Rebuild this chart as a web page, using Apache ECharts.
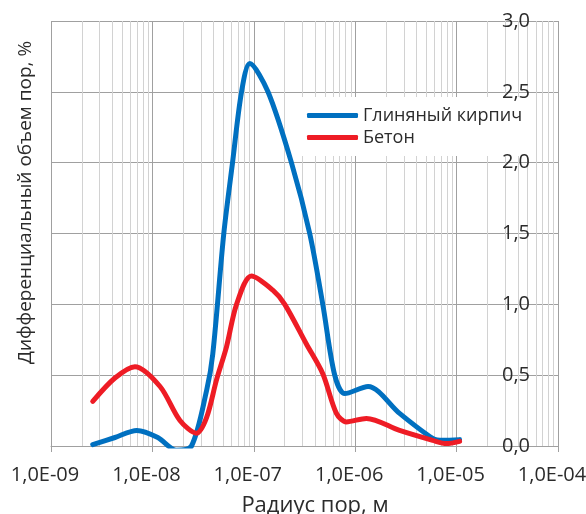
<!DOCTYPE html>
<html>
<head>
<meta charset="utf-8">
<script src="https://cdn.jsdelivr.net/npm/echarts@6/dist/echarts.min.js"></script>
<style>
html,body{margin:0;padding:0;background:#fff;}
#chart{width:586px;height:514px;}
</style>
</head>
<body>
<div id="chart"></div>
<script>
// ---- data ----
const seriesNames = ['Глиняный кирпич', 'Бетон'];
const brickRadius = [2.58e-9, 4.27e-9, 7.03e-9, 1.13e-8, 1.73e-8, 2.43e-8, 3.42e-8, 3.94e-8, 5.06e-8, 6.17e-8, 7.57e-8, 9.14e-8, 1.38e-7, 2.35e-7, 3.56e-7, 4.79e-7, 6.28e-7, 7.89e-7, 1.34e-6, 2.74e-6, 5.81e-6, 7.33e-6, 1.07e-5];
const brickValues = [0.01, 0.06, 0.11, 0.06, -0.03, 0.0, 0.39, 0.65, 1.5, 2.0, 2.5, 2.70, 2.5, 2.0, 1.5, 1.0, 0.5, 0.37, 0.42, 0.23, 0.054, 0.04, 0.045];
const concreteRadius = [2.58e-9, 4.27e-9, 6.73e-9, 1.19e-8, 1.87e-8, 2.72e-8, 3.42e-8, 4.30e-8, 5.38e-8, 6.76e-8, 9.48e-8, 1.54e-7, 2.02e-7, 3.30e-7, 4.79e-7, 6.53e-7, 8.19e-7, 1.29e-6, 2.74e-6, 5.81e-6, 7.93e-6, 1.07e-5];
const concreteValues = [0.315, 0.48, 0.56, 0.42, 0.18, 0.09, 0.2, 0.47, 0.7, 1.0, 1.2, 1.10, 1.0, 0.72, 0.51, 0.23, 0.17, 0.195, 0.11, 0.04, 0.017, 0.033];
const xDecades = [1e-9, 1e-8, 1e-7, 1e-6, 1e-5, 1e-4];
const xTickLabels = ['1,0E-09', '1,0E-08', '1,0E-07', '1,0E-06', '1,0E-05', '1,0E-04'];
const yTickValues = [0, 0.5, 1.0, 1.5, 2.0, 2.5, 3.0];
const yTickLabels = ['0,0', '0,5', '1,0', '1,5', '2,0', '2,5', '3,0'];
const minorMultipliers = [2, 3, 4, 5, 6, 7, 8, 9];
const xAxisTitle = 'Радиус пор, м';
const yAxisTitle = 'Дифференциальный объем пор, %';

// ---- build ----
const brickData = brickRadius.map((r, i) => [r, brickValues[i]]);
const concreteData = concreteRadius.map((r, i) => [r, concreteValues[i]]);
const minorLines = [];
xDecades.slice(0, -1).forEach(d => minorMultipliers.forEach(m => minorLines.push([m * d, 0])));

const FONT = '"Open Sans", sans-serif';
const TXT = '#2b2b2b';

const chart = echarts.init(document.getElementById('chart'), null, {renderer: 'canvas'});
chart.setOption({
  animation: false,
  backgroundColor: '#ffffff',
  textStyle: {fontFamily: FONT},
  grid: {left: 51, right: 28, top: 21, bottom: 68, containLabel: false, outerBoundsMode: 'none'},
  legend: {
    orient: 'vertical',
    left: 297, top: 97,
    z: 4,
    data: seriesNames,
    icon: 'roundRect',
    itemWidth: 51, itemHeight: 5,
    itemGap: 3,
    padding: [9, 8, 9, 10],
    backgroundColor: '#ffffff',
    textStyle: {fontFamily: FONT, fontSize: 18, color: TXT, lineHeight: 19}
  },
  xAxis: {
    type: 'log', logBase: 10, min: 1e-9, max: 1e-4, splitNumber: 5,
    name: xAxisTitle, nameLocation: 'middle', nameGap: 49,
    nameTextStyle: {fontFamily: FONT, fontSize: 22, color: TXT, padding: [0, 0, 0, 21]},
    axisLine: {show: true, lineStyle: {color: '#a0a0a0', width: 1}},
    axisTick: {show: true, length: 6, lineStyle: {color: '#a0a0a0'}},
    axisLabel: {
      fontFamily: FONT, fontSize: 20, color: TXT, margin: 19, padding: [0, 12, 0, 0],
      formatter: v => { const i = xDecades.findIndex(d => Math.abs(Math.log10(d) - Math.log10(v)) < 1e-6); return i >= 0 ? xTickLabels[i] : ''; }
    },
    splitLine: {show: true, lineStyle: {color: '#a0a0a0', width: 1}}
  },
  yAxis: [{
    type: 'value', position: 'right', min: 0, max: 3, interval: 0.5,
    z: 6,
    axisLine: {show: false}, axisTick: {show: false},
    axisLabel: {
      inside: true, margin: 28, fontFamily: FONT, fontSize: 20, color: TXT,
      formatter: v => { const i = yTickValues.findIndex(t => Math.abs(t - v) < 1e-9); return i >= 0 ? yTickLabels[i] : ''; }
    },
    splitLine: {show: false}
  }, {
    type: 'value', position: 'left', min: 0, max: 3, interval: 0.5,
    axisLine: {show: false}, axisTick: {show: false}, axisLabel: {show: false},
    splitLine: {show: true, lineStyle: {color: '#a0a0a0', width: 1}},
    name: yAxisTitle, nameLocation: 'middle', nameGap: 16,
    nameTextStyle: {fontFamily: FONT, fontSize: 19, color: TXT, padding: [0, 0, 0, 62]}
  }],
  series: [{
    type: 'custom', silent: true, z: 1,
    data: minorLines,
    encode: {x: 0, y: 1},
    renderItem: (params, api) => {
      const x = api.value(0);
      const p1 = api.coord([x, 0]);
      const p2 = api.coord([x, 3]);
      const px = Math.round(p1[0]) + 0.5;
      return {type: 'line', shape: {x1: px, y1: p1[1], x2: px, y2: p2[1]}, style: {stroke: '#d2d2d2', lineWidth: 1}};
    }
  }, {
    name: seriesNames[0], type: 'line', data: brickData, smooth: 0.3, showSymbol: false, symbol: 'none', z: 2,
    lineStyle: {color: '#0070c0', width: 5, cap: 'round', join: 'round'}, itemStyle: {color: '#0070c0'}
  }, {
    name: seriesNames[1], type: 'line', data: concreteData, smooth: 0.3, showSymbol: false, symbol: 'none', z: 3,
    lineStyle: {color: '#ee1c25', width: 5, cap: 'round', join: 'round'}, itemStyle: {color: '#ee1c25'}
  }]
});
</script>
</body>
</html>
